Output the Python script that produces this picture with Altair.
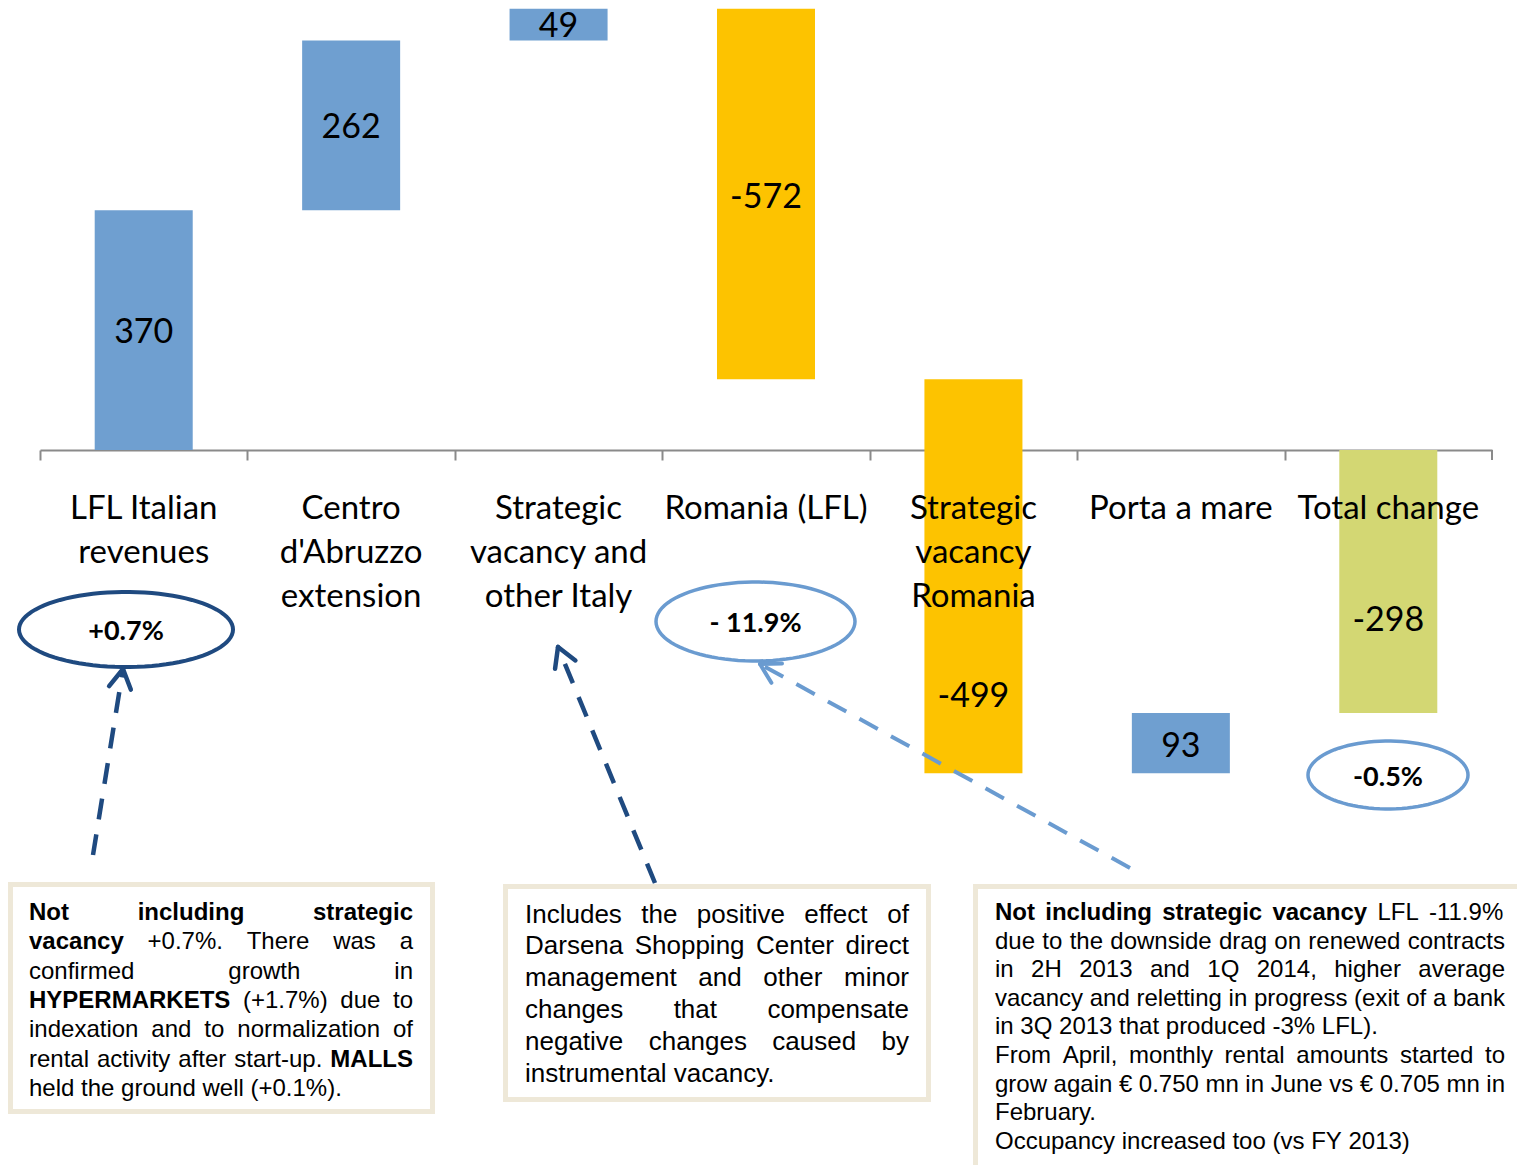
import math
import altair as alt
import pandas as pd

# ---------------- data ----------------
categories = ["LFL Italian revenues", "Centro d'Abruzzo extension",
              "Strategic vacancy and other Italy", "Romania (LFL)",
              "Strategic vacancy Romania", "Porta a mare", "Total change"]
category_lines = ["LFL Italian\nrevenues", "Centro\nd'Abruzzo\nextension",
                  "Strategic\nvacancy and\nother Italy", "Romania (LFL)",
                  "Strategic\nvacancy\nRomania", "Porta a mare", "Total change"]
values = [370, 262, 49, -572, -499, 93, -298]
# bar extents as drawn in the picture (data units)
bar_start = [0, 370, 632, 109, -499, -499, -406]
bar_end = [370, 632, 681, 681, 109, -406, 0]
label_at = [181, 497, 653, 389, -381, -458, -264]
kinds = ["up", "up", "up", "down", "down", "up", "total"]

bubble_labels = ["+0.7%", "- 11.9%", "-0.5%"]

box1 = [["**Not including strategic**",
         "**vacancy** +0.7%. There was a",
         "confirmed growth in",
         "**HYPERMARKETS** (+1.7%) due to",
         "indexation and to normalization of",
         "rental activity after start-up. **MALLS**",
         "held the ground well (+0.1%)."]]
box2 = [["Includes the positive effect of",
         "Darsena Shopping Center direct",
         "management and other minor",
         "changes that compensate",
         "negative changes caused by",
         "instrumental vacancy."]]
box3 = [["**Not including strategic vacancy** LFL -11.9%",
         "due to the downside drag on renewed contracts",
         "in 2H 2013 and 1Q 2014, higher average",
         "vacancy and reletting in progress (exit of a bank",
         "in 3Q 2013 that produced -3% LFL)."],
        ["From April, monthly rental amounts started to",
         "grow again € 0.750 mn in June vs € 0.705 mn in",
         "February."],
        ["Occupancy increased too (vs FY 2013)"]]

# ---------------- styles ----------------
BLUE = "#6F9FD0"
YELLOW = "#FDC300"
OLIVE = "#D3D773"
NAVY = "#1F4A80"
LIGHT = "#6A9BD0"
BOXLINE = "#EEE8D8"
AXIS = "#8A8A8A"
LABEL_FONT = "Lato"
BOX_FONT = "Liberation Sans"

# Arial-compatible advance widths (per 1000 em)
punct = " !%()+,-./0123456789:?'€"
reg_p = [278, 278, 889, 333, 333, 584, 278, 333, 278, 278] + [556] * 10 + [278, 556, 191, 556]
bold_p = [278, 333, 889, 333, 333, 584, 278, 333, 278, 278] + [556] * 10 + [333, 611, 238, 556]
UP = "ABCDEFGHIJKLMNOPQRSTUVWXYZ"
LO = "abcdefghijklmnopqrstuvwxyz"
reg_u = [667, 667, 722, 722, 667, 611, 778, 722, 278, 500, 667, 556, 833, 722, 778, 667, 778, 722, 667, 611, 722, 667, 944, 667, 667, 611]
reg_l = [556, 556, 500, 556, 556, 278, 556, 556, 222, 222, 500, 222, 833, 556, 556, 556, 556, 333, 500, 278, 556, 500, 722, 500, 500, 500]
bold_u = [722, 722, 722, 722, 667, 611, 778, 722, 278, 556, 722, 611, 833, 722, 778, 667, 778, 722, 667, 611, 722, 667, 944, 667, 667, 611]
bold_l = [556, 611, 556, 611, 556, 333, 611, 611, 278, 278, 556, 278, 889, 611, 611, 611, 611, 389, 556, 333, 611, 556, 778, 556, 556, 500]
REG = dict(zip(punct, reg_p)); REG.update(zip(UP, reg_u)); REG.update(zip(LO, reg_l))
BLD = dict(zip(punct, bold_p)); BLD.update(zip(UP, bold_u)); BLD.update(zip(LO, bold_l))


def word_width(word, bold, fs):
    tbl = BLD if bold else REG
    return sum(tbl.get(c, 556) for c in word) / 1000.0 * fs


def parse(line):
    out, bold = [], False
    for tok in line.split(" "):
        if tok.startswith("**"):
            bold = True
            tok = tok[2:]
        wb = bold
        if tok.endswith("**"):
            tok = tok[:-2]
            bold = False
        out.append((tok, wb))
    return out


def layout(paragraphs, left, right, base0, lh, fs):
    rows, li = [], 0
    W = right - left
    for para in paragraphs:
        for k, line in enumerate(para):
            words = parse(line)
            widths = [word_width(t, b, fs) for t, b in words]
            if k < len(para) - 1 and len(words) > 1:
                gap = (W - sum(widths)) / (len(words) - 1)
            else:
                gap = 0.278 * fs
            x = left
            y = base0 + li * lh
            for (t, b), w in zip(words, widths):
                rows.append(dict(x=x, y=y, t=t, bold=b, fs=fs))
                x += w + gap
            li += 1
    return rows


words = (layout(box1, 29, 413, 920, 29.3, 24)
         + layout(box2, 525, 909, 922.5, 31.9, 26)
         + layout(box3, 995, 1505, 920, 28.6, 24))
words_df = pd.DataFrame(words)

# ---------------- main chart ----------------
df = pd.DataFrame({"cat": categories, "lines": category_lines, "val": [str(v) for v in values],
                   "start": bar_start, "end": bar_end, "lab": label_at, "kind": kinds})

X0, X1 = 40, 1492
STEP = (X1 - X0) / len(categories)
yscale = alt.Scale(domain=[-1103.4, 694.4], nice=False, zero=False)
xscale = alt.Scale(domain=categories, range=[X0, X1], paddingInner=0.5275, paddingOuter=0.26375)
xaxis = alt.Axis(title=None, labels=False, grid=False, tickOffset=-STEP / 2,
                 domainColor=AXIS, domainWidth=2, tickColor=AXIS, tickWidth=2,
                 tickSize=10, offset=-715)
xenc = alt.X("cat:N", scale=xscale, sort=categories, axis=xaxis)

bars = alt.Chart(df).mark_bar().encode(
    x=xenc,
    y=alt.Y("start:Q", scale=yscale, axis=None),
    y2="end:Q",
    color=alt.Color("kind:N", scale=alt.Scale(domain=["up", "down", "total"],
                                              range=[BLUE, YELLOW, OLIVE]), legend=None),
)

# closing tick at the right end of the category axis
end_tick = alt.Chart(pd.DataFrame({"a": [0]})).mark_rule(color=AXIS, strokeWidth=2).encode(
    x=alt.value(X1), y=alt.value(450), y2=alt.value(460),
)

vals = alt.Chart(df).mark_text(font=LABEL_FONT, fontSize=34, baseline="middle", color="#000000").encode(
    x=xenc,
    y=alt.Y("lab:Q", scale=yscale, axis=None),
    text="val:N",
)

cats = alt.Chart(df).mark_text(font=LABEL_FONT, fontSize=33, baseline="alphabetic", align="center",
                               lineBreak="\n", lineHeight=44, color="#000000").encode(
    x=xenc,
    y=alt.value(519),
    text="lines:N",
)


# ---------------- bubbles ----------------
def ellipse_path(ratio, n=90):
    pts = [(math.cos(2 * math.pi * i / n), ratio * math.sin(2 * math.pi * i / n)) for i in range(n)]
    return "M" + " L".join(f"{x:.4f},{y:.4f}" for x, y in pts) + " Z"


ell = pd.DataFrame({
    "cx": [126, 755.5, 1388], "cy": [629.5, 621.5, 775],
    "rx": [107, 99.5, 80], "ry": [37.5, 39.5, 34],
    "col": [NAVY, LIGHT, LIGHT], "sw": [4, 3.5, 3.5], "txt": bubble_labels,
    "ty": [632, 624, 778],
})
ell["shape"] = [ellipse_path(ry / rx) for rx, ry in zip(ell.rx, ell.ry)]
ell["size"] = (2 * ell.rx) ** 2

ellipses = alt.Chart(ell).mark_point(filled=False, opacity=1).encode(
    x=alt.X("cx:Q", scale=None, axis=None),
    y=alt.Y("cy:Q", scale=None, axis=None),
    shape=alt.Shape("shape:N", scale=None),
    size=alt.Size("size:Q", scale=None),
    color=alt.Color("col:N", scale=None),
    strokeWidth=alt.StrokeWidth("sw:Q", scale=None),
)
ell_txt = alt.Chart(ell).mark_text(font=LABEL_FONT, fontWeight="bold", fontSize=27,
                                   baseline="middle", color="#000000").encode(
    x=alt.X("cx:Q", scale=None, axis=None),
    y=alt.Y("ty:Q", scale=None, axis=None),
    text="txt:N",
)

# ---------------- arrows ----------------
arrows = [((93, 855), (123, 669), NAVY, 4.5),
          ((655, 883), (558, 647), NAVY, 4.5),
          ((1130, 868), (760, 664), LIGHT, 4.0)]
shaft_rows, head_rows = [], []
for (tx, ty), (hx, hy), col, sw in arrows:
    shaft_rows.append(dict(x1=tx, y1=ty, x2=hx, y2=hy, col=col, sw=sw))
    L = math.hypot(tx - hx, ty - hy)
    ux, uy = (tx - hx) / L, (ty - hy) / L
    for ang in (30, -30):
        a = math.radians(ang)
        rx = ux * math.cos(a) - uy * math.sin(a)
        ry = ux * math.sin(a) + uy * math.cos(a)
        head_rows.append(dict(x1=hx, y1=hy, x2=hx + 22 * rx, y2=hy + 22 * ry, col=col, sw=sw))

shafts = alt.Chart(pd.DataFrame(shaft_rows)).mark_rule(strokeDash=[21, 15]).encode(
    x=alt.X("x1:Q", scale=None, axis=None), y=alt.Y("y1:Q", scale=None, axis=None),
    x2="x2:Q", y2="y2:Q",
    color=alt.Color("col:N", scale=None), strokeWidth=alt.StrokeWidth("sw:Q", scale=None),
)
heads = alt.Chart(pd.DataFrame(head_rows)).mark_rule(strokeCap="round").encode(
    x=alt.X("x1:Q", scale=None, axis=None), y=alt.Y("y1:Q", scale=None, axis=None),
    x2="x2:Q", y2="y2:Q",
    color=alt.Color("col:N", scale=None), strokeWidth=alt.StrokeWidth("sw:Q", scale=None),
)

# ---------------- text boxes ----------------
boxes_df = pd.DataFrame({"x1": [10.5, 505.5, 975.5], "x2": [432.5, 928.5, 1540],
                         "y1": [884.5, 886.5, 886.5], "y2": [1111.5, 1099.5, 1190]})
boxes = alt.Chart(boxes_df).mark_rect(fill="white", stroke=BOXLINE, strokeWidth=5).encode(
    x=alt.X("x1:Q", scale=None, axis=None), y=alt.Y("y1:Q", scale=None, axis=None),
    x2="x2:Q", y2="y2:Q",
)


def word_layer(bold):
    return alt.Chart(words_df[words_df.bold == bold]).mark_text(
        font=BOX_FONT, fontWeight="bold" if bold else "normal", align="left",
        baseline="alphabetic", color="#000000").encode(
        x=alt.X("x:Q", scale=None, axis=None),
        y=alt.Y("y:Q", scale=None, axis=None),
        size=alt.Size("fs:Q", scale=None),
        text="t:N",
    )


chart = alt.layer(
    bars, end_tick, vals, cats, ellipses, ell_txt, shafts, heads, boxes,
    word_layer(False), word_layer(True),
).properties(
    width=1517, height=1165, padding=0, autosize="none", background="white"
).configure_view(strokeWidth=0)

chart.save("out.html", embed_options={"renderer": "svg", "actions": False})
